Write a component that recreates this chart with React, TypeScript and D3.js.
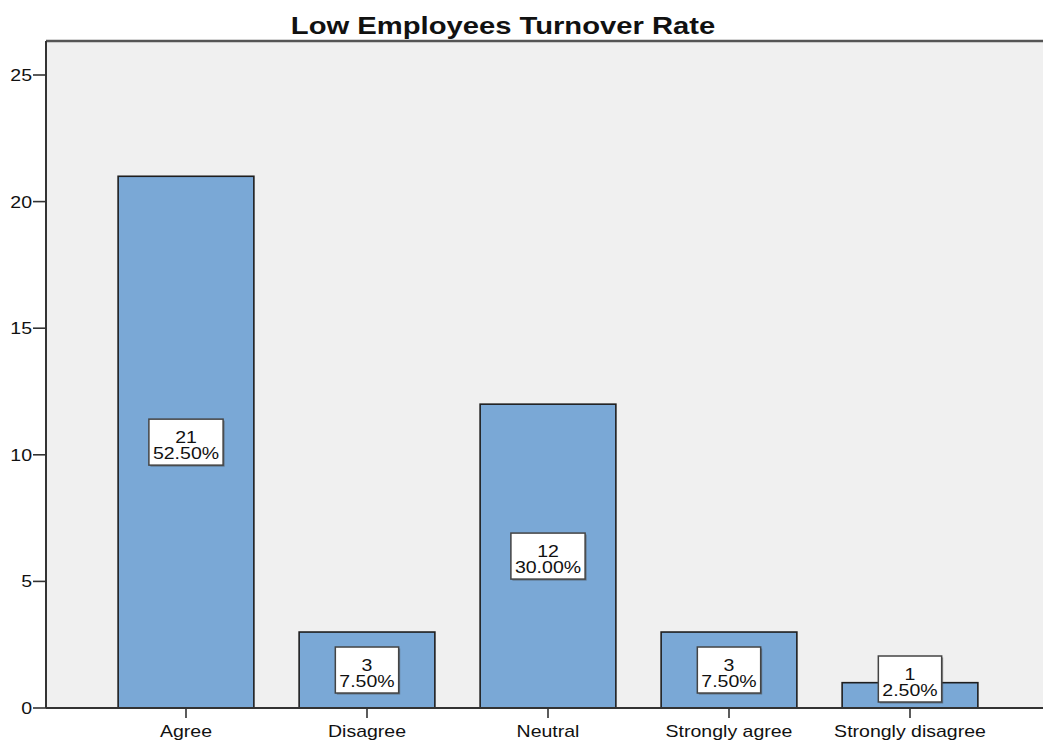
import React from "react";
import * as d3 from "d3";

const categories = ["Agree", "Disagree", "Neutral", "Strongly agree", "Strongly disagree"];
const counts = [21, 3, 12, 3, 1];
const percents = ["52.50%", "7.50%", "30.00%", "7.50%", "2.50%"];
const yTicks = [0, 5, 10, 15, 20, 25];
const title = "Low Employees Turnover Rate";

const W = 1043;
const H = 742;
const FONT = "'Liberation Sans', Arial, sans-serif";
const SX = 1.22;

function ST(props: { x: number; y: number; size: number; anchor?: string; bold?: boolean; children: React.ReactNode; sx?: number }) {
  const { x, y, size, anchor = "middle", bold = false, children, sx = SX } = props;
  return (
    <text
      transform={`translate(${x},${y}) scale(${sx},1)`}
      fontFamily={FONT}
      fontSize={size}
      fontWeight={bold ? "bold" : "normal"}
      textAnchor={anchor}
      fill="#111"
    >
      {children}
    </text>
  );
}

function textWidth(s: string, size: number) {
  const w: Record<string, number> = { "%": 0.889, ".": 0.278 };
  let t = 0;
  for (const c of s) t += w[c] ?? 0.556;
  return t * size * SX;
}

export default function App() {
  const left = 46;
  const right = W;
  const top = 41;
  const y = d3.scaleLinear().domain([0, 25]).range([708, 75]);
  const y0 = y(0);
  const x = d3
    .scaleBand<string>()
    .domain(categories)
    .range([95.5, 1000.5])
    .paddingInner(0.25)
    .paddingOuter(0.125);

  return (
    <svg width={W} height={H} style={{ position: "absolute", left: 0, top: 0, background: "#fff" }}>
      <rect x={left} y={top} width={right - left} height={y0 - top} fill="#f0f0f0" />
      <line x1={left} x2={right} y1={top} y2={top} stroke="#555" strokeWidth={2.5} />
      {categories.map((c, i) => {
        const bx = x(c)!;
        const by = y(counts[i]);
        return (
          <rect key={c} x={bx} y={by} width={x.bandwidth()} height={y0 - by} fill="#7aa8d6" stroke="#1e1e1e" strokeWidth={1.6} />
        );
      })}
      <line x1={left} x2={left} y1={top} y2={y0} stroke="#333" strokeWidth={2} />
      <line x1={left} x2={right} y1={y0} y2={y0} stroke="#333" strokeWidth={2} />
      {yTicks.map((t) => (
        <g key={t}>
          <line x1={33} x2={left} y1={y(t)} y2={y(t)} stroke="#333" strokeWidth={1.6} />
          <ST x={32} y={y(t) + 6} size={16} anchor="end">{t}</ST>
        </g>
      ))}
      {categories.map((c) => {
        const cx = x(c)! + x.bandwidth() / 2;
        return (
          <g key={c}>
            <line x1={cx} x2={cx} y1={y0} y2={y0 + 10} stroke="#333" strokeWidth={1.6} />
            <ST x={cx} y={737} size={16}>{c}</ST>
          </g>
        );
      })}
      {categories.map((c, i) => {
        const cx = x(c)! + x.bandwidth() / 2;
        const bh = 46;
        let cy = y(counts[i] / 2);
        if (cy + bh / 2 > y0 - 6) cy = y0 - 6 - bh / 2;
        const bw = Math.max(textWidth(percents[i], 16), textWidth(String(counts[i]), 16)) + 8;
        return (
          <g key={c + "lab"}>
            <rect x={cx - bw / 2 + 1.5} y={cy - bh / 2 + 1.5} width={bw} height={bh} fill="#444" opacity={0.5} />
            <rect x={cx - bw / 2} y={cy - bh / 2} width={bw} height={bh} fill="#fff" stroke="#444" strokeWidth={1.5} />
            <ST x={cx} y={cy + 1} size={16}>{counts[i]}</ST>
            <ST x={cx} y={cy + 17} size={16}>{percents[i]}</ST>
          </g>
        );
      })}
      <ST x={503} y={34} size={23} bold sx={1.27}>{title}</ST>
    </svg>
  );
}
